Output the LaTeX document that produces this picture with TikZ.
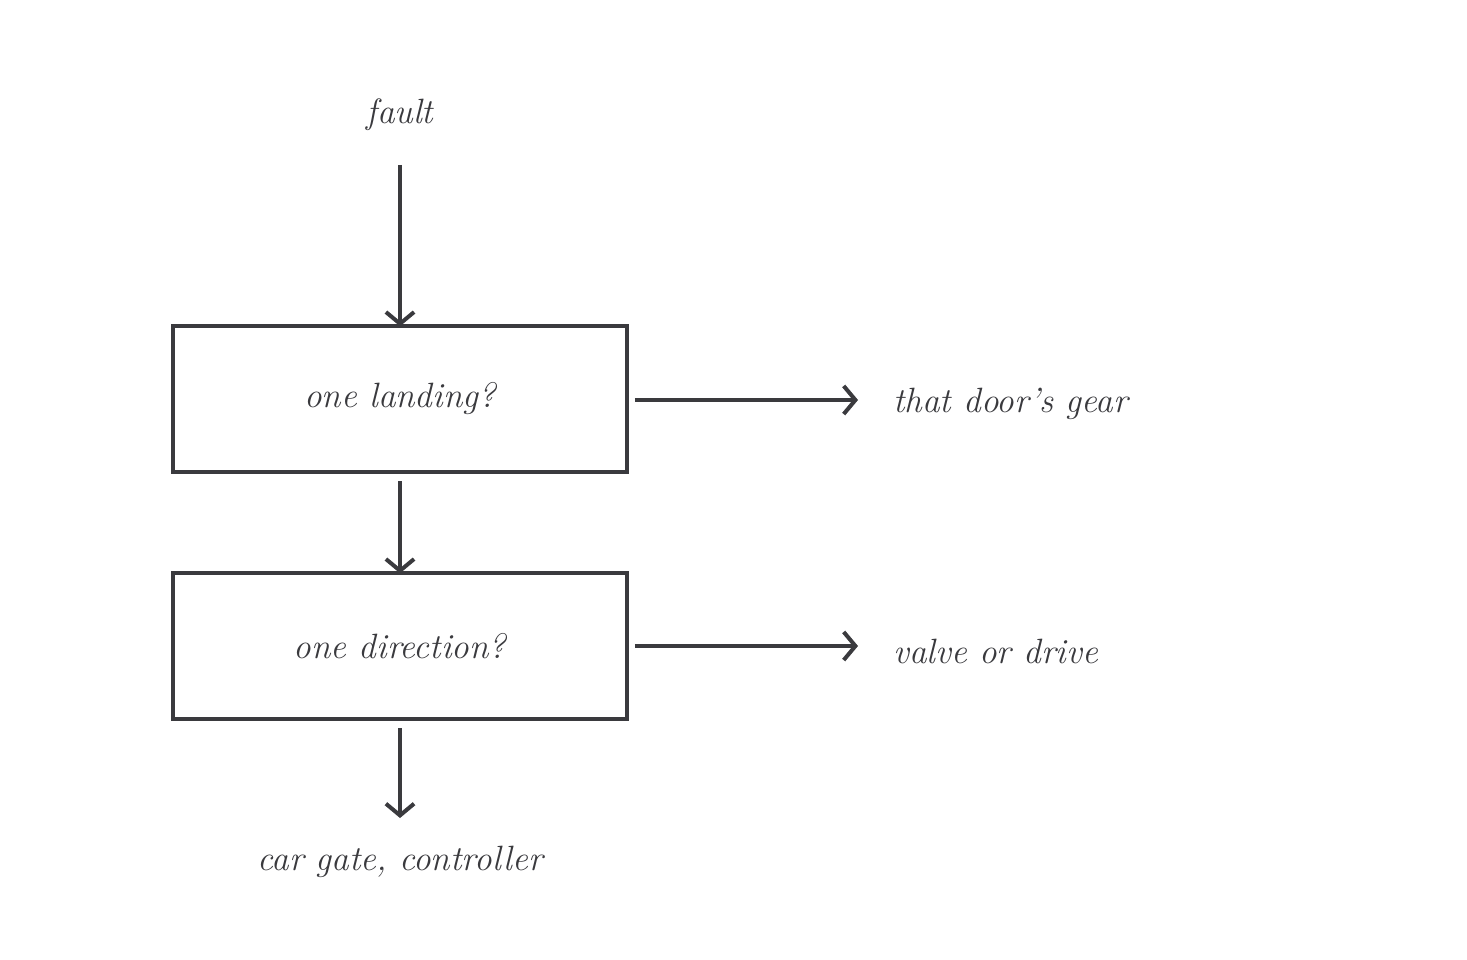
\documentclass[tikz,border=0pt]{standalone}
\usetikzlibrary{arrows.meta}
\definecolor{ink}{HTML}{3A3A3E}
\tikzset{
  box/.style={draw=ink, line width=3.4pt, minimum width=13.62cm, minimum height=4.38cm, inner sep=0pt},
  txt/.style={text=ink, font=\fontsize{30}{36}\selectfont\itshape, inner sep=0pt},
  flow/.style={draw=ink, line width=3.4pt, -{Straight Barb[length=10pt, width=24pt, line width=3.4pt]}}
}
\begin{document}
\begin{tikzpicture}[x=0.03cm, y=-0.03cm]
\useasboundingbox (0,0) rectangle (1467,960);

\node[txt] (fault) at (400,115) {fault};
\node[box] (landing) at (400,399) {};
\node[txt] at (landing) {one landing?};
\node[box] (direction) at (400,646) {};
\node[txt] at (direction) {one direction?};
\node[txt, anchor=west] (gear) at (893,404) {that door's gear};
\node[txt, anchor=west] (valve) at (893,651) {valve or drive};
\node[txt] (gate) at (400,862) {car gate, controller};

\coordinate (fbot) at (400,165);
\coordinate (gearin) at (858,400);
\coordinate (valvein) at (858,646);
\coordinate (gatetop) at (400,818);

\draw[flow] (fbot) -- ([yshift=-2pt]landing.north);
\draw[flow] ([yshift=-6pt]landing.south) -- ([yshift=-2pt]direction.north);
\draw[flow] ([xshift=5pt]landing.east |- gearin) -- (gearin);
\draw[flow] ([xshift=5pt]direction.east |- valvein) -- (valvein);
\draw[flow] ([yshift=-6pt]direction.south) -- (gatetop);
\end{tikzpicture}
\end{document}
